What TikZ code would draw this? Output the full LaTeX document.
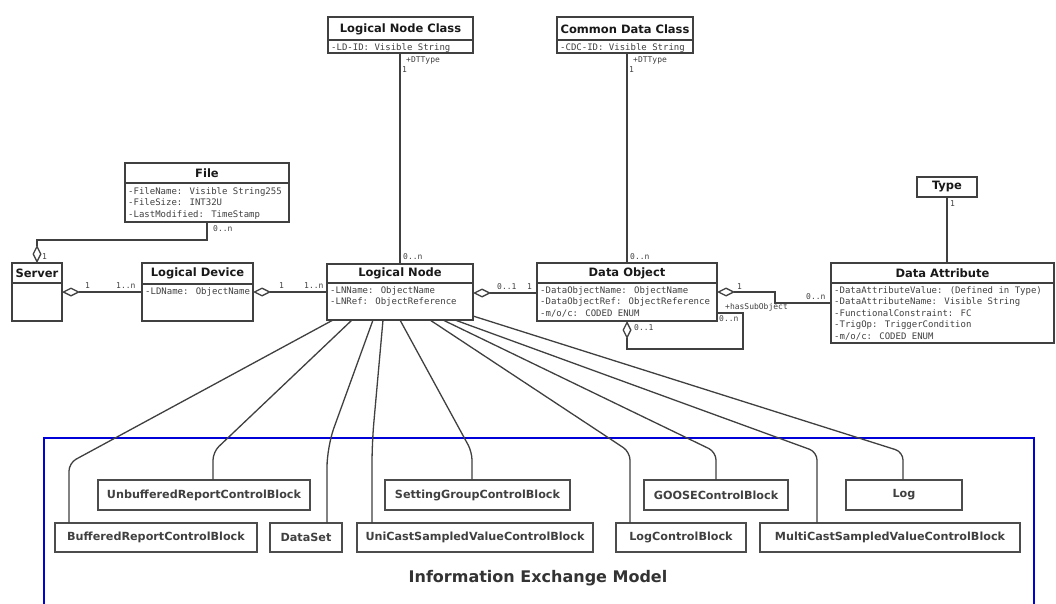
\documentclass[tikz,border=0pt]{standalone}
\usepackage{fontspec}
\setmainfont{DejaVu Sans}
\newfontfamily\monof{DejaVu Sans Mono}
\usetikzlibrary{arrows.meta,calc}

\begin{document}
\begin{tikzpicture}[x=1pt,y=-1pt,
  clsbox/.style={draw=black!75, line width=1.3pt, anchor=north west, inner sep=0pt, outer sep=0pt},
  clstitle/.style={font=\bfseries\fontsize{11.5}{13}\selectfont, inner sep=0pt, text=black!90},
  attr/.style={font=\monof\fontsize{9}{11.5}\selectfont, anchor=north west, align=left, inner sep=0pt, text=black!75},
  mult/.style={font=\monof\fontsize{8}{9}\selectfont, inner sep=0pt, anchor=west, text=black!75},
  assoc/.style={draw=black!75, line width=1.3pt},
  agg/.style={assoc, {Diamond[open, length=18pt, width=9pt, line width=1.3pt]}-},
  link/.style={draw=black!75, line width=1.3pt, rounded corners=8pt},
  blockbox/.style={draw=black!70, line width=1.1pt, anchor=north west, inner sep=0pt, outer sep=0pt,
                   font=\bfseries\fontsize{11.2}{13}\selectfont, text=black!75},
]
\useasboundingbox (0,0) rectangle (1056,604);
\fill[white] (0,0) rectangle (1056,604);

% ---------- UML classes ----------
% Logical Node Class
\node[clsbox, minimum width=145pt, minimum height=36pt] (lnc) at (328,17) {};
\draw[assoc] ([yshift=-23pt]lnc.north west) -- ([yshift=-23pt]lnc.north east);
\node[clstitle] at ([yshift=-12pt]lnc.north) {Logical Node Class};
\node[attr] at ([shift={(3pt,-26pt)}]lnc.north west) {-LD-ID: Visible String};

% Common Data Class
\node[clsbox, minimum width=136pt, minimum height=36pt] (cdc) at (557,17) {};
\draw[assoc] ([yshift=-23pt]cdc.north west) -- ([yshift=-23pt]cdc.north east);
\node[clstitle] at ([yshift=-12pt]cdc.north) {Common Data Class};
\node[attr] at ([shift={(3pt,-26pt)}]cdc.north west) {-CDC-ID: Visible String};

% File
\node[clsbox, minimum width=164pt, minimum height=59pt] (file) at (125,163) {};
\draw[assoc] ([yshift=-20pt]file.north west) -- ([yshift=-20pt]file.north east);
\node[clstitle] at ([yshift=-10pt]file.north) {File};
\node[attr] at ([shift={(3pt,-24pt)}]file.north west)
  {-FileName: Visible String255\\-FileSize: INT32U\\-LastModified: TimeStamp};

% Server
\node[clsbox, minimum width=50pt, minimum height=58pt] (server) at (12,263) {};
\draw[assoc] ([yshift=-20pt]server.north west) -- ([yshift=-20pt]server.north east);
\node[clstitle] at ([yshift=-10pt]server.north) {Server};

% Logical Device
\node[clsbox, minimum width=111pt, minimum height=58pt] (ld) at (142,263) {};
\draw[assoc] ([yshift=-21pt]ld.north west) -- ([yshift=-21pt]ld.north east);
\node[clstitle] at ([yshift=-10.5pt]ld.north) {Logical Device};
\node[attr] at ([shift={(3pt,-24pt)}]ld.north west) {-LDName: ObjectName};

% Logical Node
\node[clsbox, minimum width=146pt, minimum height=56pt] (ln) at (327,264) {};
\draw[assoc] ([yshift=-19pt]ln.north west) -- ([yshift=-19pt]ln.north east);
\node[clstitle] at ([yshift=-9.5pt]ln.north) {Logical Node};
\node[attr] at ([shift={(3pt,-22pt)}]ln.north west)
  {-LNName: ObjectName\\-LNRef: ObjectReference};

% Data Object
\node[clsbox, minimum width=180pt, minimum height=58pt] (do) at (537,263) {};
\draw[assoc] ([yshift=-20pt]do.north west) -- ([yshift=-20pt]do.north east);
\node[clstitle] at ([yshift=-10pt]do.north) {Data Object};
\node[attr] at ([shift={(3pt,-23pt)}]do.north west)
  {-DataObjectName: ObjectName\\-DataObjectRef: ObjectReference\\-m/o/c: CODED ENUM};

% Type
\node[clsbox, minimum width=60pt, minimum height=20pt] (type) at (917,177) {};
\node[clstitle] at (type.center) {Type};

% Data Attribute
\node[clsbox, minimum width=223pt, minimum height=80pt] (da) at (831,263) {};
\draw[assoc] ([yshift=-20pt]da.north west) -- ([yshift=-20pt]da.north east);
\node[clstitle] at ([yshift=-10pt]da.north) {Data Attribute};
\node[attr] at ([shift={(3pt,-23pt)}]da.north west)
  {-DataAttributeValue: (Defined in Type)\\-DataAttributeName: Visible String\\-FunctionalConstraint: FC\\-TrigOp: TriggerCondition\\-m/o/c: CODED ENUM};

% ---------- associations ----------
\draw[assoc] (ln.north) -- (ln.north |- lnc.south);
\node[mult] at (406,60) {+DTType};
\node[mult] at (402,70) {1};
\node[mult] at (403,257) {0..n};

\draw[assoc] (do.north) -- (do.north |- cdc.south);
\node[mult] at (633,60) {+DTType};
\node[mult] at (629,70) {1};
\node[mult] at (630,257) {0..n};

\draw[agg] (server.north) |- ([yshift=-18pt]file.south) -- (file.south);
\node[mult] at (213,229) {0..n};
\node[mult] at (42,257) {1};

\draw[agg] ([yshift=-29pt]server.north east) -- ([yshift=-29pt]server.north east -| ld.west);
\node[mult] at (85,286) {1};
\node[mult] at (116,286) {1..n};

\draw[agg] ([yshift=-29pt]ld.north east) -- ([yshift=-29pt]ld.north east -| ln.west);
\node[mult] at (279,286) {1};
\node[mult] at (304,286) {1..n};

\draw[agg] ([yshift=-29pt]ln.north east) -- ([yshift=-29pt]ln.north east -| do.west);
\node[mult] at (497,287) {0..1};
\node[mult] at (527,287) {1};

\coordinate (dabend) at (775,303);
\draw[agg] ([yshift=-29pt]do.north east) -| (dabend) -- (dabend -| da.west);
\node[mult] at (737,287) {1};
\node[mult] at (806,297) {0..n};

\coordinate (loopcorner) at (743,349);
\draw[agg] (do.south) |- (loopcorner) |- ([yshift=-50pt]do.north east);
\node[mult] at (634,328) {0..1};
\node[mult] at (719,319) {0..n};
\node[mult] at (725,307) {+hasSubObject};

\draw[assoc] (type.south) -- (type.south |- da.north);
\node[mult] at (950,204) {1};

% ---------- information exchange model ----------
\node[draw=blue!85!black, line width=2pt, minimum width=990pt, minimum height=190pt,
      anchor=north west, inner sep=0pt] (iem) at (43,437) {};
\node[font=\bfseries\fontsize{16}{18}\selectfont, text=black!80] (iemtitle) at (538,578) {Information Exchange Model};

\node[blockbox, minimum width=212pt, minimum height=30pt] (urcb) at (98,480) {UnbufferedReportControlBlock};
\node[blockbox, minimum width=185pt, minimum height=30pt] (sgcb) at (385,480) {SettingGroupControlBlock};
\node[blockbox, minimum width=144pt, minimum height=30pt] (goose) at (644,480) {GOOSEControlBlock};
\node[blockbox, minimum width=116pt, minimum height=30pt] (log) at (846,480) {Log};
\node[blockbox, minimum width=202pt, minimum height=29pt] (brcb) at (55,523) {BufferedReportControlBlock};
\node[blockbox, minimum width=72pt, minimum height=29pt] (dset) at (270,523) {DataSet};
\node[blockbox, minimum width=236pt, minimum height=29pt] (usv) at (357,523) {UniCastSampledValueControlBlock};
\node[blockbox, minimum width=130pt, minimum height=29pt] (lcb) at (616,523) {LogControlBlock};
\node[blockbox, minimum width=260pt, minimum height=29pt] (msv) at (760,523) {MultiCastSampledValueControlBlock};

% ---------- links from Logical Node ----------
\draw[link] ([xshift=6pt]ln.south west) -- ([shift={(14pt,60pt)}]brcb.north west) -- ([xshift=14pt]brcb.north west);
\draw[link] ([xshift=25pt]ln.south west) -- ([shift={(115pt,28pt)}]urcb.north west) -- ([xshift=115pt]urcb.north west);
\draw[link, rounded corners=20pt] ([xshift=46pt]ln.south west) -- ([shift={(57pt,76pt)}]dset.north west) -- ([xshift=57pt]dset.north west);
\draw[link, rounded corners=20pt] ([xshift=56pt]ln.south west) -- ([shift={(15pt,80pt)}]usv.north west) -- ([xshift=15pt]usv.north west);
\draw[link] ([xshift=73pt]ln.south west) -- ([shift={(87pt,28pt)}]sgcb.north west) -- ([xshift=87pt]sgcb.north west);
\draw[link] ([xshift=103pt]ln.south west) -- ([shift={(14pt,71pt)}]lcb.north west) -- ([xshift=14pt]lcb.north west);
\draw[link] ([xshift=116pt]ln.south west) -- ([shift={(72pt,28pt)}]goose.north west) -- ([xshift=72pt]goose.north west);
\draw[link] ([xshift=128pt]ln.south west) -- ([shift={(57pt,71pt)}]msv.north west) -- ([xshift=57pt]msv.north west);
\draw[link] ([yshift=4pt]ln.south east) -- ([shift={(57pt,28pt)}]log.north west) -- ([xshift=57pt]log.north west);
\end{tikzpicture}
\end{document}
